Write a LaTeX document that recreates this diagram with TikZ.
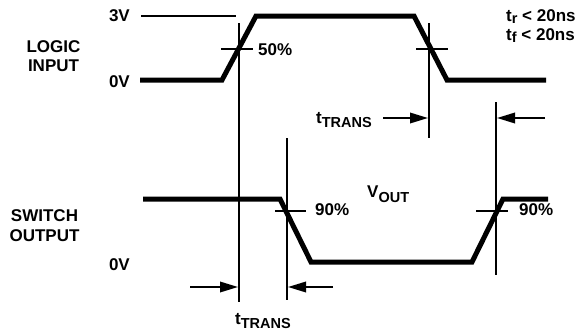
\documentclass[tikz,border=0pt]{standalone}
\usepackage{fontspec}
\setmainfont{Liberation Sans}
\usetikzlibrary{arrows.meta}
\newcommand\lowsub[2]{\raisebox{-#1}{\fontsize{14.5}{14}\selectfont #2}}
\begin{document}
\begin{tikzpicture}[x=1pt,y=-1pt,
  lbl/.style={font=\fontsize{17}{19.5}\selectfont\bfseries, inner sep=0pt},
  wave/.style={line width=5pt, line join=miter},
  thinln/.style={line width=1.8pt},
  arr/.style={line width=1.8pt, -{Triangle[length=18pt,width=10.5pt]}}]
\useasboundingbox (0,0) rectangle (584,335);
% input waveform
\coordinate (i0) at (140,80);
\coordinate (i1) at (222,80);
\coordinate (i2) at (256,16);
\coordinate (i3) at (414,16);
\coordinate (i4) at (447,80);
\coordinate (i5) at (546,80);
\draw[wave] (i0) -- (i1) -- (i2) -- (i3) -- (i4) -- (i5);
% output waveform
\coordinate (o0) at (143,199);
\coordinate (o1) at (280,199);
\coordinate (o2) at (311,262);
\coordinate (o3) at (472,262);
\coordinate (o4) at (503,199);
\coordinate (o5) at (548,199);
\draw[wave] (o0) -- (o1) -- (o2) -- (o3) -- (o4) -- (o5);
% reference lines
\coordinate (r3a) at (141,16); \coordinate (r3b) at (236,16);
\draw[thinln] (r3a) -- (r3b);
\coordinate (v1a) at (239,23); \coordinate (v1b) at (239,302);
\coordinate (v2a) at (287,138); \coordinate (v2b) at (287,300);
\coordinate (v3a) at (429,23); \coordinate (v3b) at (429,138);
\coordinate (v4a) at (496,102); \coordinate (v4b) at (496,275);
\draw[thinln] (v1a) -- (v1b);
\draw[thinln] (v2a) -- (v2b);
\draw[thinln] (v3a) -- (v3b);
\draw[thinln] (v4a) -- (v4b);
% ticks
\coordinate (t1a) at (221,49); \coordinate (t1b) at (253,49);
\coordinate (t2a) at (416,49); \coordinate (t2b) at (448,49);
\coordinate (t3a) at (275,211); \coordinate (t3b) at (306,211);
\coordinate (t4a) at (476,211); \coordinate (t4b) at (508,211);
\draw[thinln] (t1a) -- (t1b);
\draw[thinln] (t2a) -- (t2b);
\draw[thinln] (t3a) -- (t3b);
\draw[thinln] (t4a) -- (t4b);
% arrows
\coordinate (a1s) at (383,118); \coordinate (a1e) at (428,118);
\coordinate (a2s) at (545,118); \coordinate (a2e) at (497,118);
\coordinate (a3s) at (190,287); \coordinate (a3e) at (238,287);
\coordinate (a4s) at (333,287); \coordinate (a4e) at (288,287);
\draw[arr] (a1s) -- (a1e);
\draw[arr] (a2s) -- (a2e);
\draw[arr] (a3s) -- (a3e);
\draw[arr] (a4s) -- (a4e);
% labels
\node[lbl, align=center, anchor=base] (li) at (53.5,71.5) {LOGIC\\INPUT};
\node[lbl, align=center, anchor=base] (so) at (44.5,241) {SWITCH\\OUTPUT};
\node[lbl, anchor=base east] (v3) at (130,21) {3V};
\node[lbl, anchor=base east] (v0) at (130,87) {0V};
\node[lbl, anchor=base east] (v0b) at (130,270) {0V};
\node[lbl, anchor=base west] (p50) at (258,55) {50\%};
\node[lbl, anchor=base west] (p90a) at (315,215.5) {90\%};
\node[lbl, anchor=base west] (p90b) at (519,215.5) {90\%};
\node[lbl, anchor=base west] (tr) at (506,21) {t\lowsub{2pt}{r} < 20ns};
\node[lbl, anchor=base west] (tf) at (506,40) {t\lowsub{2pt}{f} < 20ns};
\node[lbl, anchor=base east] (tt1) at (372,123) {t\lowsub{4pt}{TRANS}};
\node[lbl, anchor=base] (tt2) at (263,324) {t\lowsub{4pt}{TRANS}};
\node[lbl, anchor=base west] (vo) at (367,197) {V\lowsub{5pt}{OUT}};
\end{tikzpicture}
\end{document}
